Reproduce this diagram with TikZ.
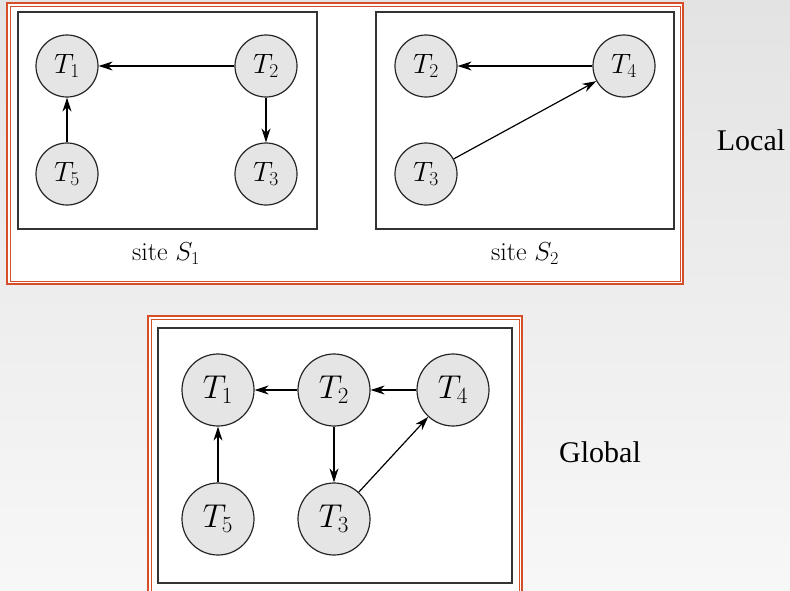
\RequirePackage{fix-cm}
\documentclass[tikz,border=0pt]{standalone}
\usepackage{fontspec}
\usepackage{tikz}
\usetikzlibrary{arrows.meta}
\newfontfamily\timesfont{Liberation Serif}

\definecolor{framered}{RGB}{214,78,40}
\definecolor{txngray}{gray}{0.9}
\definecolor{bgtop}{gray}{0.89}
\definecolor{bgbot}{gray}{0.97}

\begin{document}
\begin{tikzpicture}[
    x=1pt, y=-1pt,
    txn/.style={circle, draw=black!85, line width=1.2pt, fill=txngray, minimum size=62pt, inner sep=0pt, font=\fontsize{28}{32}\selectfont},
    gtxn/.style={txn, minimum size=72pt, font=\fontsize{33}{38}\selectfont},
    outer_frame/.style={draw=framered, line width=1.6pt, fill=white},
    inner_frame/.style={draw=framered, line width=0.9pt},
    site_box/.style={draw=black!80, line width=1.4pt},
    wait_edge/.style={line width=1.2pt, draw=black, -{Stealth[length=14pt, width=9pt]}},
    site_label/.style={font=\fontsize{26}{30}\selectfont},
    side_label/.style={font=\timesfont\fontsize{30}{34}\selectfont}
]
    \useasboundingbox (0,0) rectangle (790,590);
    \shade[top color=bgtop, bottom color=bgbot] (0,0) rectangle (790,590);

    % Local frame with both sites
    \draw [outer_frame] (7,3) rectangle (683,284);
    \draw [inner_frame] (10,6) rectangle (680,281);
    \draw [site_box] (18,12) rectangle (317,229);
    \draw [site_box] (376,12) rectangle (674,229);

    % Site S1
    \node (s1t1) [txn] at (67,66) {$T_1$};
    \node (s1t2) [txn] at (266,66) {$T_2$};
    \node (s1t5) [txn] at (67,174) {$T_5$};
    \node (s1t3) [txn] at (266,174) {$T_3$};
    \node (s1name) [site_label] at (166,254) {site $S_1$};

    \draw [wait_edge] (s1t2) -- (s1t1);
    \draw [wait_edge] (s1t2) -- (s1t3);
    \draw [wait_edge] (s1t5) -- (s1t1);

    % Site S2
    \node (s2t2) [txn] at (426,66) {$T_2$};
    \node (s2t4) [txn] at (624,66) {$T_4$};
    \node (s2t3) [txn] at (426,174) {$T_3$};
    \node (s2name) [site_label] at (525,254) {site $S_2$};

    \draw [wait_edge] (s2t4) -- (s2t2);
    \draw [wait_edge] (s2t3) -- (s2t4);

    \node (local) [side_label] at (751,140) {Local};

    % Global graph
    \draw [outer_frame] (148,316) rectangle (522,596);
    \draw [inner_frame] (151,319) rectangle (519,593);
    \draw [site_box] (158,328) rectangle (512,583);

    \node (gt1) [gtxn] at (218,390) {$T_1$};
    \node (gt2) [gtxn] at (334,390) {$T_2$};
    \node (gt4) [gtxn] at (453,390) {$T_4$};
    \node (gt5) [gtxn] at (218,519) {$T_5$};
    \node (gt3) [gtxn] at (334,519) {$T_3$};

    \draw [wait_edge] (gt2) -- (gt1);
    \draw [wait_edge] (gt4) -- (gt2);
    \draw [wait_edge] (gt2) -- (gt3);
    \draw [wait_edge] (gt5) -- (gt1);
    \draw [wait_edge] (gt3) -- (gt4);

    \node (global) [side_label] at (600,452) {Global};
\end{tikzpicture}
\end{document}
